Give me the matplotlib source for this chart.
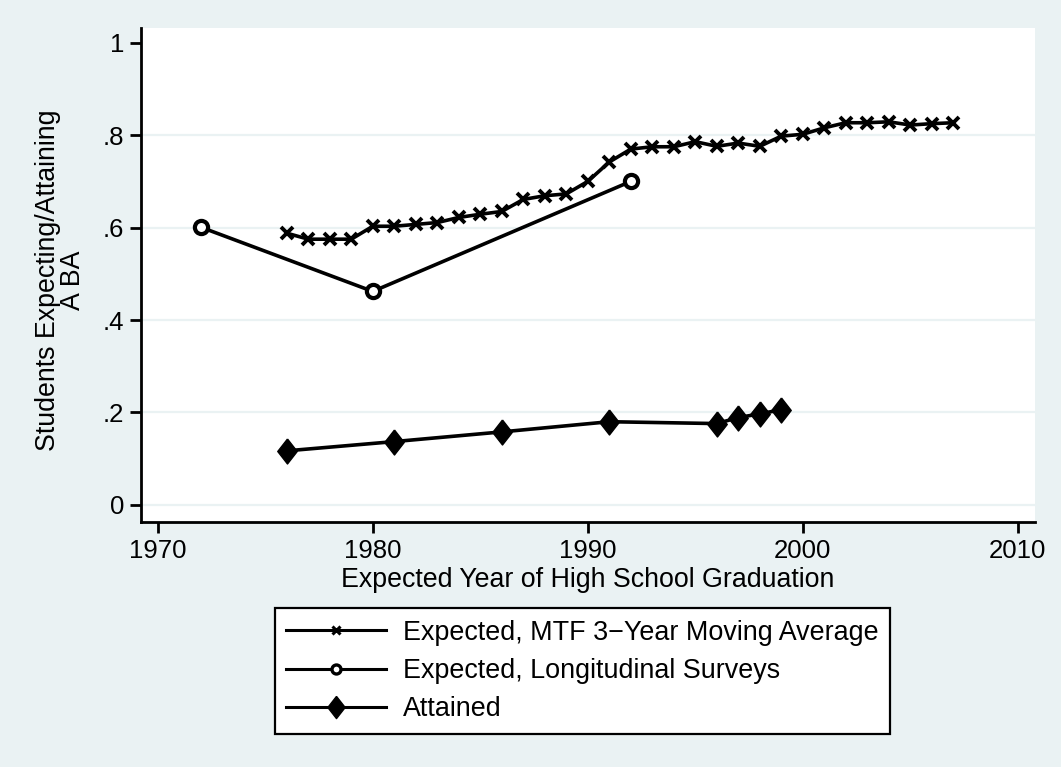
import matplotlib
matplotlib.use("Agg")
import matplotlib.pyplot as plt
from matplotlib.lines import Line2D

plt.rcParams['font.family'] = ['Liberation Sans', 'DejaVu Sans']

# MTF 3-year moving average of expected BA
mtf_years = list(range(1976, 2008))
mtf_vals = [0.588, 0.575, 0.575, 0.575, 0.603, 0.603, 0.607, 0.611, 0.622, 0.629,
            0.635, 0.661, 0.669, 0.673, 0.700, 0.742, 0.770, 0.775, 0.775, 0.786,
            0.776, 0.783, 0.776, 0.798, 0.802, 0.816, 0.827, 0.827, 0.829, 0.822,
            0.825, 0.827]

# longitudinal surveys
long_years = [1972, 1980, 1992]
long_vals = [0.601, 0.462, 0.700]

# attained BA
att_years = [1976, 1981, 1986, 1991, 1996, 1997, 1998, 1999]
att_vals = [0.117, 0.137, 0.158, 0.180, 0.176, 0.189, 0.197, 0.206]

yticks = [0, 0.2, 0.4, 0.6, 0.8, 1]
ytick_labels = ['0', '.2', '.4', '.6', '.8', '1']
xticks = [1970, 1980, 1990, 2000, 2010]

bg = '#eaf2f3'
diamond = [(0, 1), (0.78, 0), (0, -1), (-0.78, 0), (0, 1)]

fig = plt.figure(figsize=(10.61, 7.67), dpi=100, facecolor=bg)
ax = fig.add_axes([141/1061, 1-522/767, (1035-141)/1061, (522-28)/767])
ax.set_facecolor('white')

ax.plot(mtf_years, mtf_vals, '-', color='black', lw=2.6, marker='x',
        ms=9, mew=2.8, zorder=3)
ax.plot(long_years, long_vals, '-', color='black', lw=2.6, marker='o',
        ms=9.5, mew=3, mfc='white', mec='black', zorder=3)
ax.plot(att_years, att_vals, '-', color='black', lw=2.6, marker=diamond,
        ms=18, mfc='black', mec='black', zorder=3)

for yv in yticks[:-1]:
    ax.axhline(yv, color=bg, lw=1.6, zorder=1)

ax.set_xlim(1969.22, 2010.8)
ax.set_ylim(-0.037, 1.032)
ax.set_xticks(xticks)
ax.set_yticks(yticks)
ax.set_yticklabels(ytick_labels)

for s in ['top', 'right']:
    ax.spines[s].set_visible(False)
for s in ['left', 'bottom']:
    ax.spines[s].set_linewidth(2)
ax.tick_params(axis='both', length=8, width=2, labelsize=18.5, color='black')
ax.tick_params(axis='y', pad=4)
ax.tick_params(axis='x', pad=4)

ax.set_xlabel('Expected Year of High School Graduation', fontsize=19.3, labelpad=3)
ax.set_ylabel('Students Expecting/Attaining\nA BA', fontsize=19.3, linespacing=0.95)
ax.yaxis.set_label_coords(-0.062, 0.49)

handles = [
    Line2D([], [], color='black', lw=2.2, marker='x', ms=5.5, mew=2.2),
    Line2D([], [], color='black', lw=2.2, marker='o', ms=6.5, mew=2.4, mfc='white'),
    Line2D([], [], color='black', lw=2.2, marker=diamond, ms=16, mfc='black'),
]
labels = ['Expected, MTF 3\u2212Year Moving Average',
          'Expected, Longitudinal Surveys',
          'Attained']
leg = fig.legend(handles, labels, loc='center', bbox_to_anchor=(582.5/1061, 1-671/767),
                 fontsize=19.4, frameon=True, fancybox=False, edgecolor='black',
                 facecolor='white', framealpha=1, handlelength=3.7, handletextpad=0.65,
                 borderpad=0.42, labelspacing=0.46, borderaxespad=0)
leg.get_frame().set_linewidth(1.6)

fig.savefig('out.png', dpi=100, facecolor=bg)
